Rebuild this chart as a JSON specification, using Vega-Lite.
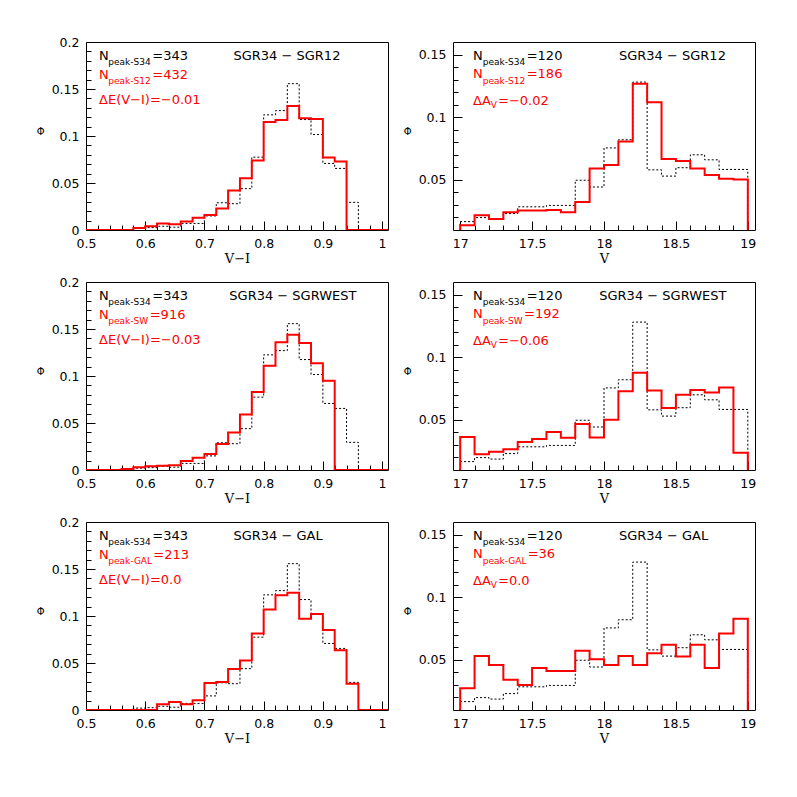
{
"$schema": "https://vega.github.io/schema/vega-lite/v6.json",
"padding": {"left": 35, "top": 35, "right": 5, "bottom": 5},
"background": "white",
"config": {
  "view": {"stroke": "black", "strokeWidth": 1},
  "axis": {"domain": false, "grid": false, "tickColor": "black", "tickWidth": 1, "labelColor": "black", "labelFont": "DejaVu Sans", "labelFontSize": 12.5, "titleFont": "DejaVu Serif", "titleFontSize": 13, "titleFontWeight": "normal", "titleColor": "black", "labelOverlap": false, "labelFlush": false, "labelBound": false},
  "text": {"font": "DejaVu Sans"}
},
"datasets": {
  "refVI": [
    {"x":0.5,"phi":0},{"x":0.58,"phi":0.002},{"x":0.6,"phi":0.0025},{"x":0.62,"phi":0.004},{"x":0.64,"phi":0.003},{"x":0.66,"phi":0.007},{"x":0.68,"phi":0.007},{"x":0.7,"phi":0.015},{"x":0.72,"phi":0.029},{"x":0.74,"phi":0.028},{"x":0.76,"phi":0.044},{"x":0.78,"phi":0.0775},{"x":0.8,"phi":0.1225},{"x":0.82,"phi":0.127},{"x":0.84,"phi":0.1557},{"x":0.86,"phi":0.1175},{"x":0.88,"phi":0.1016},{"x":0.9,"phi":0.0708},{"x":0.92,"phi":0.0655},{"x":0.94,"phi":0.0294},{"x":0.96,"phi":0},{"x":1.01,"phi":0}
  ],
  "refV": [
    {"x":16.95,"phi":0},{"x":17.0,"phi":0.0167},{"x":17.1,"phi":0.0199},{"x":17.2,"phi":0.0187},{"x":17.3,"phi":0.0231},{"x":17.4,"phi":0.0285},{"x":17.5,"phi":0.0285},{"x":17.6,"phi":0.0296},{"x":17.7,"phi":0.0296},{"x":17.8,"phi":0.0497},{"x":17.9,"phi":0.0443},{"x":18.0,"phi":0.0755},{"x":18.1,"phi":0.082},{"x":18.2,"phi":0.128},{"x":18.3,"phi":0.058},{"x":18.4,"phi":0.053},{"x":18.5,"phi":0.0597},{"x":18.6,"phi":0.07},{"x":18.7,"phi":0.066},{"x":18.8,"phi":0.0583},{"x":18.9,"phi":0.0583},{"x":19.0,"phi":0}
  ],
  "cmp": [
    {"p":"A","x":0.5,"phi":0},{"p":"A","x":0.58,"phi":0.002},{"p":"A","x":0.6,"phi":0.004},{"p":"A","x":0.62,"phi":0.007},{"p":"A","x":0.64,"phi":0.006},{"p":"A","x":0.66,"phi":0.009},{"p":"A","x":0.68,"phi":0.013},{"p":"A","x":0.7,"phi":0.016},{"p":"A","x":0.72,"phi":0.023},{"p":"A","x":0.74,"phi":0.042},{"p":"A","x":0.76,"phi":0.055},{"p":"A","x":0.78,"phi":0.074},{"p":"A","x":0.8,"phi":0.115},{"p":"A","x":0.82,"phi":0.117},{"p":"A","x":0.84,"phi":0.132},{"p":"A","x":0.86,"phi":0.119},{"p":"A","x":0.88,"phi":0.118},{"p":"A","x":0.9,"phi":0.077},{"p":"A","x":0.92,"phi":0.073},{"p":"A","x":0.94,"phi":0},{"p":"A","x":1.01,"phi":0},
    {"p":"B","x":16.95,"phi":0},{"p":"B","x":17.0,"phi":0.0137},{"p":"B","x":17.1,"phi":0.0218},{"p":"B","x":17.2,"phi":0.0188},{"p":"B","x":17.3,"phi":0.0242},{"p":"B","x":17.4,"phi":0.0255},{"p":"B","x":17.5,"phi":0.0255},{"p":"B","x":17.6,"phi":0.026},{"p":"B","x":17.7,"phi":0.0242},{"p":"B","x":17.8,"phi":0.0323},{"p":"B","x":17.9,"phi":0.059},{"p":"B","x":18.0,"phi":0.0618},{"p":"B","x":18.1,"phi":0.0806},{"p":"B","x":18.2,"phi":0.1266},{"p":"B","x":18.3,"phi":0.112},{"p":"B","x":18.4,"phi":0.0667},{"p":"B","x":18.5,"phi":0.065},{"p":"B","x":18.6,"phi":0.059},{"p":"B","x":18.7,"phi":0.0538},{"p":"B","x":18.8,"phi":0.0508},{"p":"B","x":18.9,"phi":0.0503},{"p":"B","x":19.0,"phi":0},
    {"p":"C","x":0.5,"phi":0},{"p":"C","x":0.56,"phi":0.001},{"p":"C","x":0.58,"phi":0.003},{"p":"C","x":0.6,"phi":0.004},{"p":"C","x":0.62,"phi":0.0045},{"p":"C","x":0.64,"phi":0.005},{"p":"C","x":0.66,"phi":0.0095},{"p":"C","x":0.68,"phi":0.013},{"p":"C","x":0.7,"phi":0.017},{"p":"C","x":0.72,"phi":0.0276},{"p":"C","x":0.74,"phi":0.04},{"p":"C","x":0.76,"phi":0.059},{"p":"C","x":0.78,"phi":0.083},{"p":"C","x":0.8,"phi":0.111},{"p":"C","x":0.82,"phi":0.136},{"p":"C","x":0.84,"phi":0.144},{"p":"C","x":0.86,"phi":0.135},{"p":"C","x":0.88,"phi":0.1135},{"p":"C","x":0.9,"phi":0.095},{"p":"C","x":0.92,"phi":0},{"p":"C","x":1.01,"phi":0},
    {"p":"D","x":16.95,"phi":0},{"p":"D","x":17.0,"phi":0.0363},{"p":"D","x":17.1,"phi":0.0226},{"p":"D","x":17.2,"phi":0.0245},{"p":"D","x":17.3,"phi":0.0266},{"p":"D","x":17.4,"phi":0.0323},{"p":"D","x":17.5,"phi":0.0347},{"p":"D","x":17.6,"phi":0.0403},{"p":"D","x":17.7,"phi":0.0358},{"p":"D","x":17.8,"phi":0.0468},{"p":"D","x":17.9,"phi":0.036},{"p":"D","x":18.0,"phi":0.05},{"p":"D","x":18.1,"phi":0.0729},{"p":"D","x":18.2,"phi":0.0876},{"p":"D","x":18.3,"phi":0.0734},{"p":"D","x":18.4,"phi":0.0594},{"p":"D","x":18.5,"phi":0.07},{"p":"D","x":18.6,"phi":0.0739},{"p":"D","x":18.7,"phi":0.0718},{"p":"D","x":18.8,"phi":0.0758},{"p":"D","x":18.9,"phi":0.0237},{"p":"D","x":19.0,"phi":0},
    {"p":"E","x":0.5,"phi":0},{"p":"E","x":0.62,"phi":0.006},{"p":"E","x":0.64,"phi":0.0085},{"p":"E","x":0.66,"phi":0.006},{"p":"E","x":0.68,"phi":0.0103},{"p":"E","x":0.7,"phi":0.0288},{"p":"E","x":0.72,"phi":0.0298},{"p":"E","x":0.74,"phi":0.0437},{"p":"E","x":0.76,"phi":0.0526},{"p":"E","x":0.78,"phi":0.0814},{"p":"E","x":0.8,"phi":0.107},{"p":"E","x":0.82,"phi":0.122},{"p":"E","x":0.84,"phi":0.1247},{"p":"E","x":0.86,"phi":0.097},{"p":"E","x":0.88,"phi":0.102},{"p":"E","x":0.9,"phi":0.085},{"p":"E","x":0.92,"phi":0.0636},{"p":"E","x":0.94,"phi":0.028},{"p":"E","x":0.96,"phi":0},{"p":"E","x":1.01,"phi":0},
    {"p":"F","x":16.95,"phi":0},{"p":"F","x":17.0,"phi":0.0273},{"p":"F","x":17.1,"phi":0.053},{"p":"F","x":17.2,"phi":0.046},{"p":"F","x":17.3,"phi":0.0342},{"p":"F","x":17.4,"phi":0.03},{"p":"F","x":17.5,"phi":0.0436},{"p":"F","x":17.6,"phi":0.0412},{"p":"F","x":17.7,"phi":0.0412},{"p":"F","x":17.8,"phi":0.0572},{"p":"F","x":17.9,"phi":0.0505},{"p":"F","x":18.0,"phi":0.046},{"p":"F","x":18.1,"phi":0.053},{"p":"F","x":18.2,"phi":0.046},{"p":"F","x":18.3,"phi":0.0553},{"p":"F","x":18.4,"phi":0.062},{"p":"F","x":18.5,"phi":0.0527},{"p":"F","x":18.6,"phi":0.062},{"p":"F","x":18.7,"phi":0.0436},{"p":"F","x":18.8,"phi":0.0711},{"p":"F","x":18.9,"phi":0.0829},{"p":"F","x":19.0,"phi":0}
  ],
  "labels": [
    {"p":"A","part":"main","s":"ref","x":0.522,"phi":0.1851,"t":"N"},
    {"p":"A","part":"sub","s":"ref","x":0.5377,"phi":0.1784,"t":"peak-S34"},
    {"p":"A","part":"main","s":"ref","x":0.612,"phi":0.1851,"t":"=343"},
    {"p":"A","part":"main","s":"cmp","x":0.522,"phi":0.1654,"t":"N"},
    {"p":"A","part":"sub","s":"cmp","x":0.5377,"phi":0.1588,"t":"peak-S12"},
    {"p":"A","part":"main","s":"cmp","x":0.612,"phi":0.1654,"t":"=432"},
    {"p":"A","part":"main","s":"cmp","x":0.522,"phi":0.1378,"t":"ΔE(V−I)=−0.01"},
    {"p":"A","part":"main","s":"ref","x":0.749,"phi":0.1851,"t":"SGR34 − SGR12"},
    {"p":"C","part":"main","s":"ref","x":0.522,"phi":0.1851,"t":"N"},
    {"p":"C","part":"sub","s":"ref","x":0.5377,"phi":0.1784,"t":"peak-S34"},
    {"p":"C","part":"main","s":"ref","x":0.612,"phi":0.1851,"t":"=343"},
    {"p":"C","part":"main","s":"cmp","x":0.522,"phi":0.1654,"t":"N"},
    {"p":"C","part":"sub","s":"cmp","x":0.5377,"phi":0.1588,"t":"peak-SW"},
    {"p":"C","part":"main","s":"cmp","x":0.6076,"phi":0.1654,"t":"=916"},
    {"p":"C","part":"main","s":"cmp","x":0.522,"phi":0.1378,"t":"ΔE(V−I)=−0.03"},
    {"p":"C","part":"main","s":"ref","x":0.742,"phi":0.1851,"t":"SGR34 − SGRWEST"},
    {"p":"E","part":"main","s":"ref","x":0.522,"phi":0.1851,"t":"N"},
    {"p":"E","part":"sub","s":"ref","x":0.5377,"phi":0.1784,"t":"peak-S34"},
    {"p":"E","part":"main","s":"ref","x":0.612,"phi":0.1851,"t":"=343"},
    {"p":"E","part":"main","s":"cmp","x":0.522,"phi":0.1654,"t":"N"},
    {"p":"E","part":"sub","s":"cmp","x":0.5377,"phi":0.1588,"t":"peak-GAL"},
    {"p":"E","part":"main","s":"cmp","x":0.6137,"phi":0.1654,"t":"=213"},
    {"p":"E","part":"main","s":"cmp","x":0.522,"phi":0.1378,"t":"ΔE(V−I)=0.0"},
    {"p":"E","part":"main","s":"ref","x":0.749,"phi":0.1851,"t":"SGR34 − GAL"},
    {"p":"B","part":"main","s":"ref","x":17.089,"phi":0.1488,"t":"N"},
    {"p":"B","part":"sub","s":"ref","x":17.157,"phi":0.1438,"t":"peak-S34"},
    {"p":"B","part":"main","s":"ref","x":17.4625,"phi":0.1488,"t":"=120"},
    {"p":"B","part":"main","s":"cmp","x":17.089,"phi":0.1341,"t":"N"},
    {"p":"B","part":"sub","s":"cmp","x":17.157,"phi":0.1291,"t":"peak-S12"},
    {"p":"B","part":"main","s":"cmp","x":17.4625,"phi":0.1341,"t":"=186"},
    {"p":"B","part":"main","s":"cmp","x":17.089,"phi":0.1133,"t":"ΔA"},
    {"p":"B","part":"sub","s":"cmp","x":17.213,"phi":0.1097,"t":"V"},
    {"p":"B","part":"main","s":"cmp","x":17.263,"phi":0.1133,"t":"=−0.02"},
    {"p":"B","part":"main","s":"ref","x":18.104,"phi":0.1488,"t":"SGR34 − SGR12"},
    {"p":"D","part":"main","s":"ref","x":17.089,"phi":0.1488,"t":"N"},
    {"p":"D","part":"sub","s":"ref","x":17.157,"phi":0.1438,"t":"peak-S34"},
    {"p":"D","part":"main","s":"ref","x":17.4625,"phi":0.1488,"t":"=120"},
    {"p":"D","part":"main","s":"cmp","x":17.089,"phi":0.1341,"t":"N"},
    {"p":"D","part":"sub","s":"cmp","x":17.157,"phi":0.1291,"t":"peak-SW"},
    {"p":"D","part":"main","s":"cmp","x":17.4444,"phi":0.1341,"t":"=192"},
    {"p":"D","part":"main","s":"cmp","x":17.089,"phi":0.1133,"t":"ΔA"},
    {"p":"D","part":"sub","s":"cmp","x":17.213,"phi":0.1097,"t":"V"},
    {"p":"D","part":"main","s":"cmp","x":17.263,"phi":0.1133,"t":"=−0.06"},
    {"p":"D","part":"main","s":"ref","x":17.967,"phi":0.1488,"t":"SGR34 − SGRWEST"},
    {"p":"F","part":"main","s":"ref","x":17.089,"phi":0.1488,"t":"N"},
    {"p":"F","part":"sub","s":"ref","x":17.157,"phi":0.1438,"t":"peak-S34"},
    {"p":"F","part":"main","s":"ref","x":17.4625,"phi":0.1488,"t":"=120"},
    {"p":"F","part":"main","s":"cmp","x":17.089,"phi":0.1341,"t":"N"},
    {"p":"F","part":"sub","s":"cmp","x":17.157,"phi":0.1291,"t":"peak-GAL"},
    {"p":"F","part":"main","s":"cmp","x":17.4695,"phi":0.1341,"t":"=36"},
    {"p":"F","part":"main","s":"cmp","x":17.089,"phi":0.1133,"t":"ΔA"},
    {"p":"F","part":"sub","s":"cmp","x":17.213,"phi":0.1097,"t":"V"},
    {"p":"F","part":"main","s":"cmp","x":17.263,"phi":0.1133,"t":"=0.0"},
    {"p":"F","part":"main","s":"ref","x":18.104,"phi":0.1488,"t":"SGR34 − GAL"}
  ]
},
"columns": 2,
"spacing": {"row": 52, "column": 65},
"bounds": "flush",
"concat": [
  {"width": 302, "height": 188, "resolve": {"axis": {"x": "independent", "y": "independent"}}, "layer": [
    {"data": {"name": "refVI"}, "mark": {"type": "line", "interpolate": "step-after", "color": "black", "strokeWidth": 1, "strokeDash": [2, 2], "clip": true},
     "encoding": {
       "x": {"field": "x", "type": "quantitative", "scale": {"domain": [0.5, 1.01], "nice": false, "zero": false},
             "axis": {"orient": "bottom", "title": "V−I", "values": [0.5,0.6,0.7,0.8,0.9,1], "format": "~g", "tickSize": -9, "labelPadding": 16, "titlePadding": 3}},
       "y": {"field": "phi", "type": "quantitative", "scale": {"domain": [0, 0.2], "nice": false, "zero": false},
             "axis": {"orient": "left", "title": "Φ", "titleAngle": 0, "titleFont": "DejaVu Sans", "titleFontSize": 10, "titlePadding": 11, "values": [0,0.05,0.1,0.15,0.2], "format": "~g", "tickSize": -9, "labelPadding": 16}}
     }},
    {"data": {"name": "cmp"}, "transform": [{"filter": "datum.p == 'A'"}], "mark": {"type": "line", "interpolate": "step-after", "color": "#ff0000", "strokeWidth": 2, "clip": true},
     "encoding": {
       "x": {"field": "x", "type": "quantitative", "axis": {"orient": "bottom", "title": null, "labels": false, "tickSize": -5, "values": [0.52,0.54,0.56,0.58,0.62,0.64,0.66,0.68,0.72,0.74,0.76,0.78,0.82,0.84,0.86,0.88,0.92,0.94,0.96,0.98]}},
       "y": {"field": "phi", "type": "quantitative", "axis": {"orient": "left", "title": null, "labels": false, "tickSize": -5, "values": [0.01,0.02,0.03,0.04,0.06,0.07,0.08,0.09,0.11,0.12,0.13,0.14,0.16,0.17,0.18,0.19]}}}},
    {"data": {"name": "labels"}, "transform": [{"filter": "datum.p == 'A' && datum.part == 'main'"}], "mark": {"type": "text", "align": "left", "baseline": "middle", "fontSize": 13},
     "encoding": {"x": {"field": "x", "type": "quantitative", "axis": null}, "y": {"field": "phi", "type": "quantitative", "axis": null}, "text": {"field": "t"}, "color": {"field": "s", "type": "nominal", "scale": {"domain": ["ref", "cmp"], "range": ["black", "#ff0000"]}, "legend": null}}},
    {"data": {"name": "labels"}, "transform": [{"filter": "datum.p == 'A' && datum.part == 'sub'"}], "mark": {"type": "text", "align": "left", "baseline": "middle", "fontSize": 9},
     "encoding": {"x": {"field": "x", "type": "quantitative", "axis": null}, "y": {"field": "phi", "type": "quantitative", "axis": null}, "text": {"field": "t"}, "color": {"field": "s", "type": "nominal", "scale": {"domain": ["ref", "cmp"], "range": ["black", "#ff0000"]}, "legend": null}}}
  ]},
  {"width": 302, "height": 188, "resolve": {"axis": {"x": "independent", "y": "independent"}}, "layer": [
    {"data": {"name": "refV"}, "mark": {"type": "line", "interpolate": "step-after", "color": "black", "strokeWidth": 1, "strokeDash": [2, 2], "clip": true},
     "encoding": {
       "x": {"field": "x", "type": "quantitative", "scale": {"domain": [16.95, 19.05], "nice": false, "zero": false},
             "axis": {"orient": "bottom", "title": "V", "values": [17,17.5,18,18.5,19], "format": "~g", "tickSize": -9, "labelPadding": 16, "titlePadding": 3}},
       "y": {"field": "phi", "type": "quantitative", "scale": {"domain": [0.01, 0.16], "nice": false, "zero": false},
             "axis": {"orient": "left", "title": "Φ", "titleAngle": 0, "titleFont": "DejaVu Sans", "titleFontSize": 10, "titlePadding": 11, "values": [0.05,0.1,0.15], "format": "~g", "tickSize": -9, "labelPadding": 16}}
     }},
    {"data": {"name": "cmp"}, "transform": [{"filter": "datum.p == 'B'"}], "mark": {"type": "line", "interpolate": "step-after", "color": "#ff0000", "strokeWidth": 2, "clip": true},
     "encoding": {
       "x": {"field": "x", "type": "quantitative", "axis": {"orient": "bottom", "title": null, "labels": false, "tickSize": -5, "values": [17.1,17.2,17.3,17.4,17.6,17.7,17.8,17.9,18.1,18.2,18.3,18.4,18.6,18.7,18.8,18.9]}},
       "y": {"field": "phi", "type": "quantitative", "axis": {"orient": "left", "title": null, "labels": false, "tickSize": -5, "values": [0.02,0.03,0.04,0.06,0.07,0.08,0.09,0.11,0.12,0.13,0.14]}}}},
    {"data": {"name": "labels"}, "transform": [{"filter": "datum.p == 'B' && datum.part == 'main'"}], "mark": {"type": "text", "align": "left", "baseline": "middle", "fontSize": 13},
     "encoding": {"x": {"field": "x", "type": "quantitative", "axis": null}, "y": {"field": "phi", "type": "quantitative", "axis": null}, "text": {"field": "t"}, "color": {"field": "s", "type": "nominal", "scale": {"domain": ["ref", "cmp"], "range": ["black", "#ff0000"]}, "legend": null}}},
    {"data": {"name": "labels"}, "transform": [{"filter": "datum.p == 'B' && datum.part == 'sub'"}], "mark": {"type": "text", "align": "left", "baseline": "middle", "fontSize": 9},
     "encoding": {"x": {"field": "x", "type": "quantitative", "axis": null}, "y": {"field": "phi", "type": "quantitative", "axis": null}, "text": {"field": "t"}, "color": {"field": "s", "type": "nominal", "scale": {"domain": ["ref", "cmp"], "range": ["black", "#ff0000"]}, "legend": null}}}
  ]},
  {"width": 302, "height": 188, "resolve": {"axis": {"x": "independent", "y": "independent"}}, "layer": [
    {"data": {"name": "refVI"}, "mark": {"type": "line", "interpolate": "step-after", "color": "black", "strokeWidth": 1, "strokeDash": [2, 2], "clip": true},
     "encoding": {
       "x": {"field": "x", "type": "quantitative", "scale": {"domain": [0.5, 1.01], "nice": false, "zero": false},
             "axis": {"orient": "bottom", "title": "V−I", "values": [0.5,0.6,0.7,0.8,0.9,1], "format": "~g", "tickSize": -9, "labelPadding": 16, "titlePadding": 3}},
       "y": {"field": "phi", "type": "quantitative", "scale": {"domain": [0, 0.2], "nice": false, "zero": false},
             "axis": {"orient": "left", "title": "Φ", "titleAngle": 0, "titleFont": "DejaVu Sans", "titleFontSize": 10, "titlePadding": 11, "values": [0,0.05,0.1,0.15,0.2], "format": "~g", "tickSize": -9, "labelPadding": 16}}
     }},
    {"data": {"name": "cmp"}, "transform": [{"filter": "datum.p == 'C'"}], "mark": {"type": "line", "interpolate": "step-after", "color": "#ff0000", "strokeWidth": 2, "clip": true},
     "encoding": {
       "x": {"field": "x", "type": "quantitative", "axis": {"orient": "bottom", "title": null, "labels": false, "tickSize": -5, "values": [0.52,0.54,0.56,0.58,0.62,0.64,0.66,0.68,0.72,0.74,0.76,0.78,0.82,0.84,0.86,0.88,0.92,0.94,0.96,0.98]}},
       "y": {"field": "phi", "type": "quantitative", "axis": {"orient": "left", "title": null, "labels": false, "tickSize": -5, "values": [0.01,0.02,0.03,0.04,0.06,0.07,0.08,0.09,0.11,0.12,0.13,0.14,0.16,0.17,0.18,0.19]}}}},
    {"data": {"name": "labels"}, "transform": [{"filter": "datum.p == 'C' && datum.part == 'main'"}], "mark": {"type": "text", "align": "left", "baseline": "middle", "fontSize": 13},
     "encoding": {"x": {"field": "x", "type": "quantitative", "axis": null}, "y": {"field": "phi", "type": "quantitative", "axis": null}, "text": {"field": "t"}, "color": {"field": "s", "type": "nominal", "scale": {"domain": ["ref", "cmp"], "range": ["black", "#ff0000"]}, "legend": null}}},
    {"data": {"name": "labels"}, "transform": [{"filter": "datum.p == 'C' && datum.part == 'sub'"}], "mark": {"type": "text", "align": "left", "baseline": "middle", "fontSize": 9},
     "encoding": {"x": {"field": "x", "type": "quantitative", "axis": null}, "y": {"field": "phi", "type": "quantitative", "axis": null}, "text": {"field": "t"}, "color": {"field": "s", "type": "nominal", "scale": {"domain": ["ref", "cmp"], "range": ["black", "#ff0000"]}, "legend": null}}}
  ]},
  {"width": 302, "height": 188, "resolve": {"axis": {"x": "independent", "y": "independent"}}, "layer": [
    {"data": {"name": "refV"}, "mark": {"type": "line", "interpolate": "step-after", "color": "black", "strokeWidth": 1, "strokeDash": [2, 2], "clip": true},
     "encoding": {
       "x": {"field": "x", "type": "quantitative", "scale": {"domain": [16.95, 19.05], "nice": false, "zero": false},
             "axis": {"orient": "bottom", "title": "V", "values": [17,17.5,18,18.5,19], "format": "~g", "tickSize": -9, "labelPadding": 16, "titlePadding": 3}},
       "y": {"field": "phi", "type": "quantitative", "scale": {"domain": [0.01, 0.16], "nice": false, "zero": false},
             "axis": {"orient": "left", "title": "Φ", "titleAngle": 0, "titleFont": "DejaVu Sans", "titleFontSize": 10, "titlePadding": 11, "values": [0.05,0.1,0.15], "format": "~g", "tickSize": -9, "labelPadding": 16}}
     }},
    {"data": {"name": "cmp"}, "transform": [{"filter": "datum.p == 'D'"}], "mark": {"type": "line", "interpolate": "step-after", "color": "#ff0000", "strokeWidth": 2, "clip": true},
     "encoding": {
       "x": {"field": "x", "type": "quantitative", "axis": {"orient": "bottom", "title": null, "labels": false, "tickSize": -5, "values": [17.1,17.2,17.3,17.4,17.6,17.7,17.8,17.9,18.1,18.2,18.3,18.4,18.6,18.7,18.8,18.9]}},
       "y": {"field": "phi", "type": "quantitative", "axis": {"orient": "left", "title": null, "labels": false, "tickSize": -5, "values": [0.02,0.03,0.04,0.06,0.07,0.08,0.09,0.11,0.12,0.13,0.14]}}}},
    {"data": {"name": "labels"}, "transform": [{"filter": "datum.p == 'D' && datum.part == 'main'"}], "mark": {"type": "text", "align": "left", "baseline": "middle", "fontSize": 13},
     "encoding": {"x": {"field": "x", "type": "quantitative", "axis": null}, "y": {"field": "phi", "type": "quantitative", "axis": null}, "text": {"field": "t"}, "color": {"field": "s", "type": "nominal", "scale": {"domain": ["ref", "cmp"], "range": ["black", "#ff0000"]}, "legend": null}}},
    {"data": {"name": "labels"}, "transform": [{"filter": "datum.p == 'D' && datum.part == 'sub'"}], "mark": {"type": "text", "align": "left", "baseline": "middle", "fontSize": 9},
     "encoding": {"x": {"field": "x", "type": "quantitative", "axis": null}, "y": {"field": "phi", "type": "quantitative", "axis": null}, "text": {"field": "t"}, "color": {"field": "s", "type": "nominal", "scale": {"domain": ["ref", "cmp"], "range": ["black", "#ff0000"]}, "legend": null}}}
  ]},
  {"width": 302, "height": 188, "resolve": {"axis": {"x": "independent", "y": "independent"}}, "layer": [
    {"data": {"name": "refVI"}, "mark": {"type": "line", "interpolate": "step-after", "color": "black", "strokeWidth": 1, "strokeDash": [2, 2], "clip": true},
     "encoding": {
       "x": {"field": "x", "type": "quantitative", "scale": {"domain": [0.5, 1.01], "nice": false, "zero": false},
             "axis": {"orient": "bottom", "title": "V−I", "values": [0.5,0.6,0.7,0.8,0.9,1], "format": "~g", "tickSize": -9, "labelPadding": 16, "titlePadding": 3}},
       "y": {"field": "phi", "type": "quantitative", "scale": {"domain": [0, 0.2], "nice": false, "zero": false},
             "axis": {"orient": "left", "title": "Φ", "titleAngle": 0, "titleFont": "DejaVu Sans", "titleFontSize": 10, "titlePadding": 11, "values": [0,0.05,0.1,0.15,0.2], "format": "~g", "tickSize": -9, "labelPadding": 16}}
     }},
    {"data": {"name": "cmp"}, "transform": [{"filter": "datum.p == 'E'"}], "mark": {"type": "line", "interpolate": "step-after", "color": "#ff0000", "strokeWidth": 2, "clip": true},
     "encoding": {
       "x": {"field": "x", "type": "quantitative", "axis": {"orient": "bottom", "title": null, "labels": false, "tickSize": -5, "values": [0.52,0.54,0.56,0.58,0.62,0.64,0.66,0.68,0.72,0.74,0.76,0.78,0.82,0.84,0.86,0.88,0.92,0.94,0.96,0.98]}},
       "y": {"field": "phi", "type": "quantitative", "axis": {"orient": "left", "title": null, "labels": false, "tickSize": -5, "values": [0.01,0.02,0.03,0.04,0.06,0.07,0.08,0.09,0.11,0.12,0.13,0.14,0.16,0.17,0.18,0.19]}}}},
    {"data": {"name": "labels"}, "transform": [{"filter": "datum.p == 'E' && datum.part == 'main'"}], "mark": {"type": "text", "align": "left", "baseline": "middle", "fontSize": 13},
     "encoding": {"x": {"field": "x", "type": "quantitative", "axis": null}, "y": {"field": "phi", "type": "quantitative", "axis": null}, "text": {"field": "t"}, "color": {"field": "s", "type": "nominal", "scale": {"domain": ["ref", "cmp"], "range": ["black", "#ff0000"]}, "legend": null}}},
    {"data": {"name": "labels"}, "transform": [{"filter": "datum.p == 'E' && datum.part == 'sub'"}], "mark": {"type": "text", "align": "left", "baseline": "middle", "fontSize": 9},
     "encoding": {"x": {"field": "x", "type": "quantitative", "axis": null}, "y": {"field": "phi", "type": "quantitative", "axis": null}, "text": {"field": "t"}, "color": {"field": "s", "type": "nominal", "scale": {"domain": ["ref", "cmp"], "range": ["black", "#ff0000"]}, "legend": null}}}
  ]},
  {"width": 302, "height": 188, "resolve": {"axis": {"x": "independent", "y": "independent"}}, "layer": [
    {"data": {"name": "refV"}, "mark": {"type": "line", "interpolate": "step-after", "color": "black", "strokeWidth": 1, "strokeDash": [2, 2], "clip": true},
     "encoding": {
       "x": {"field": "x", "type": "quantitative", "scale": {"domain": [16.95, 19.05], "nice": false, "zero": false},
             "axis": {"orient": "bottom", "title": "V", "values": [17,17.5,18,18.5,19], "format": "~g", "tickSize": -9, "labelPadding": 16, "titlePadding": 3}},
       "y": {"field": "phi", "type": "quantitative", "scale": {"domain": [0.01, 0.16], "nice": false, "zero": false},
             "axis": {"orient": "left", "title": "Φ", "titleAngle": 0, "titleFont": "DejaVu Sans", "titleFontSize": 10, "titlePadding": 11, "values": [0.05,0.1,0.15], "format": "~g", "tickSize": -9, "labelPadding": 16}}
     }},
    {"data": {"name": "cmp"}, "transform": [{"filter": "datum.p == 'F'"}], "mark": {"type": "line", "interpolate": "step-after", "color": "#ff0000", "strokeWidth": 2, "clip": true},
     "encoding": {
       "x": {"field": "x", "type": "quantitative", "axis": {"orient": "bottom", "title": null, "labels": false, "tickSize": -5, "values": [17.1,17.2,17.3,17.4,17.6,17.7,17.8,17.9,18.1,18.2,18.3,18.4,18.6,18.7,18.8,18.9]}},
       "y": {"field": "phi", "type": "quantitative", "axis": {"orient": "left", "title": null, "labels": false, "tickSize": -5, "values": [0.02,0.03,0.04,0.06,0.07,0.08,0.09,0.11,0.12,0.13,0.14]}}}},
    {"data": {"name": "labels"}, "transform": [{"filter": "datum.p == 'F' && datum.part == 'main'"}], "mark": {"type": "text", "align": "left", "baseline": "middle", "fontSize": 13},
     "encoding": {"x": {"field": "x", "type": "quantitative", "axis": null}, "y": {"field": "phi", "type": "quantitative", "axis": null}, "text": {"field": "t"}, "color": {"field": "s", "type": "nominal", "scale": {"domain": ["ref", "cmp"], "range": ["black", "#ff0000"]}, "legend": null}}},
    {"data": {"name": "labels"}, "transform": [{"filter": "datum.p == 'F' && datum.part == 'sub'"}], "mark": {"type": "text", "align": "left", "baseline": "middle", "fontSize": 9},
     "encoding": {"x": {"field": "x", "type": "quantitative", "axis": null}, "y": {"field": "phi", "type": "quantitative", "axis": null}, "text": {"field": "t"}, "color": {"field": "s", "type": "nominal", "scale": {"domain": ["ref", "cmp"], "range": ["black", "#ff0000"]}, "legend": null}}}
  ]}
]
}
